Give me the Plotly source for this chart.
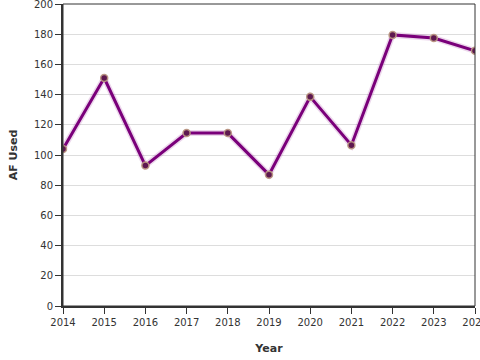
import plotly.graph_objects as go

years = [2014, 2015, 2016, 2017, 2018, 2019, 2020, 2021, 2022, 2023, 2024]
af_used = [104, 151, 93, 114.5, 114.5, 87, 138.5, 106.5, 179.5, 177.5, 169]
y_ticks = list(range(0, 201, 20))

fig = go.Figure()
# soft halo under the line
fig.add_trace(go.Scatter(x=years, y=af_used, mode="lines",
                         line=dict(color="rgba(160,60,160,0.2)", width=6),
                         hoverinfo="skip", showlegend=False))
fig.add_trace(go.Scatter(x=years, y=af_used, mode="lines+markers",
                         line=dict(color="#7a007a", width=3),
                         marker=dict(size=7, color="#5e1850",
                                     line=dict(color="rgba(185,150,130,0.95)", width=1.5)),
                         showlegend=False))

font_family = "DejaVu Sans"
fig.update_layout(
    width=480, height=360,
    margin=dict(l=63, r=5, t=4, b=54),
    paper_bgcolor="white", plot_bgcolor="white",
    font=dict(family=font_family, size=10, color="#333"),
    xaxis=dict(range=[2014, 2024], tickvals=years, ticktext=[str(y) for y in years],
               showgrid=False, zeroline=False, showline=True, linecolor="#333", linewidth=2,
               ticks="outside", ticklen=6, tickcolor="#333", tickwidth=1,
               ticklabeloverflow="allow",
               title=dict(text="<b>Year</b>", font=dict(size=11, family=font_family), standoff=17),
               automargin=False),
    yaxis=dict(range=[0, 200], tickvals=y_ticks,
               showgrid=True, gridcolor="#dddddd", gridwidth=1, zeroline=False,
               showline=True, linecolor="#333", linewidth=2,
               ticks="outside", ticklen=6, tickcolor="#333", tickwidth=1,
               ticklabeloverflow="allow",
               title=dict(text="<b>AF Used</b>", font=dict(size=11, family=font_family), standoff=14),
               automargin=False),
    shapes=[dict(type="rect", xref="paper", yref="paper", x0=0, y0=0, x1=1, y1=1,
                 line=dict(color="#333", width=1), layer="above")],
)

fig.write_html("out.html", config={"displayModeBar": False},
               post_script="document.body.style.margin='0';")
